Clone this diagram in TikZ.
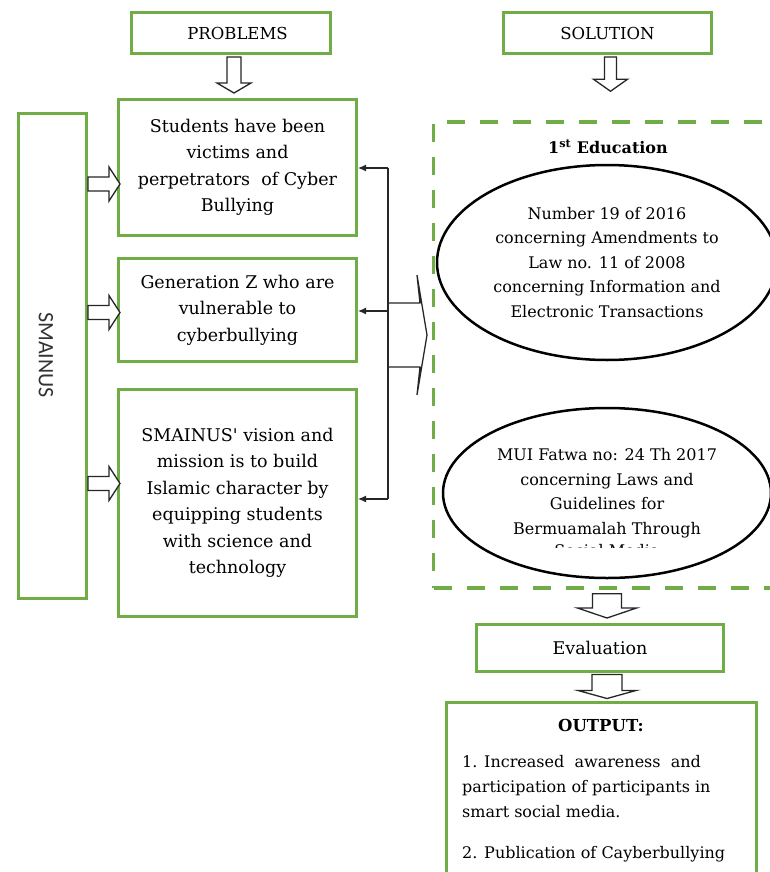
\documentclass[tikz,border=0pt]{standalone}
\usepackage{fontspec}
\setmainfont{DejaVu Serif}
\newfontfamily\smfont{Carlito}
\usetikzlibrary{shapes.geometric,arrows.meta,calc}
\definecolor{grn}{HTML}{70AD47}
\newcommand\dnblock[5]{\draw[blockarrow] let \p1=(#1), \p2=(#2) in (\x1-#3pt,\y1) -- (\x1-#3pt,\y2+#5pt) -- (\x1-#4pt,\y2+#5pt) -- (\x1,\y2) -- (\x1+#4pt,\y2+#5pt) -- (\x1+#3pt,\y2+#5pt) -- (\x1+#3pt,\y1) -- cycle;}
\newcommand\rtblock[5]{\draw[blockarrow] let \p1=(#1), \p2=(#2) in (\x1,\y1+#3pt) -- (\x2-#5pt,\y1+#3pt) -- (\x2-#5pt,\y1+#4pt) -- (\x2,\y1) -- (\x2-#5pt,\y1-#4pt) -- (\x2-#5pt,\y1-#3pt) -- (\x1,\y1-#3pt) -- cycle;}
\tikzset{
  gbox/.style={draw=grn, line width=3pt, fill=white, align=center, inner sep=0pt},
  boxtext/.style={font=\fontsize{17.5}{26.5}\selectfont},
  ell/.style={ellipse, draw=black, line width=2.5pt, fill=white, align=center, inner sep=0pt, font=\fontsize{16}{24.5}\selectfont},
  dashbox/.style={draw=grn, line width=3.5pt, dash pattern=on 18pt off 15pt, inner sep=0pt},
  blockarrow/.style={draw=black!85, line width=1.3pt, fill=white, line join=miter},
  conn/.style={draw=black!85, line width=1.3pt},
  tip/.style={-{Latex[length=8pt,width=7pt]}}
}
\begin{document}
\begin{tikzpicture}[x=1pt,y=-1pt]
\useasboundingbox (0,0) rectangle (770,872);
\fill[white] (0,0) rectangle (770,872);

% headers
\node[gbox, minimum width=199, minimum height=41, font=\fontsize{16.5}{20}\selectfont] (prob) at (231,33.5) {\hspace*{13pt}PROBLEMS};
\node[gbox, minimum width=208, minimum height=41, font=\fontsize{16.5}{20}\selectfont] (sol) at (607.5,33.5) {SOLUTION};

% left column
\node[gbox, minimum width=68, minimum height=485] (sm) at (52.5,356) {};
\node[rotate=-90, font=\smfont\fontsize{22}{22}\selectfont, text=black!80] (smt) at (46,355) {SMAINUS};

\node[gbox, boxtext, minimum width=238, minimum height=136] (s1) at (237.5,167.5)
  {Students have been\\victims and\\perpetrators\ \ of Cyber\\Bullying};
\node[gbox, boxtext, minimum width=238, minimum height=103] (s2) at (237.5,310)
  {Generation Z who are\\vulnerable to\\cyberbullying};
\node[gbox, boxtext, minimum width=238, minimum height=227] (s3) at (237.5,503)
  {SMAINUS\textquotesingle\ vision and\\mission is to build\\Islamic character by\\equipping students\\with science and\\technology};

% right column
\node[dashbox, minimum width=360, minimum height=466] (edu) at (613.5,355) {};
\node[font=\bfseries\fontsize{16}{20}\selectfont] (edt) at (608,147) {1\textsuperscript{st} Education};
\node[ell, minimum width=340, minimum height=195] (e1) at (607,262.5)
  {Number 19 of 2016\\concerning Amendments to\\Law no. 11 of 2008\\concerning Information and\\Electronic Transactions};
\node[ell, minimum width=328, minimum height=170] (e2) at (607,493)
  {MUI Fatwa no: 24 Th 2017\\concerning Laws and\\Guidelines for\\Bermuamalah Through};
\begin{scope}
  \clip (450,530) rectangle (760,547);
  \node[anchor=base, font=\fontsize{16}{24.5}\selectfont] (e2more) at (607,556) {Social Media};
\end{scope}

\node[gbox, minimum width=247, minimum height=47, font=\fontsize{17.5}{20}\selectfont] (ev) at (600,648) {Evaluation};
\node[gbox, minimum width=310, minimum height=200] (out) at (601.5,802) {};
\node[font=\bfseries\fontsize{16.5}{20}\selectfont] (outt) at (601,725) {OUTPUT:};
\node[anchor=north west, align=left, inner sep=0pt, font=\fontsize{16}{25}\selectfont] (o1) at (462,755)
  {1. Increased\ \ awareness\ \ and\\participation of participants in\\smart social media.};
\node[anchor=base west, inner sep=0pt, font=\fontsize{16}{25}\selectfont] (o2) at (462,858)
  {2. Publication of Cayberbullying};

% block arrows
\dnblock{$(prob.south)+(3,1.5)$}{$(s1.north)+(0,-5)$}{7}{17}{10}
\dnblock{$(sol.south)+(3,1.5)$}{$(edu.north)+(0,-29)$}{6}{17}{12}
\dnblock{$(e2.center |- edu.south)+(0,4)$}{$(ev.north)+(0,-5)$}{14.5}{29.5}{10}
\dnblock{$(e2.center |- ev.south)+(0,1.5)$}{$(out.north)+(0,-2)$}{15}{29}{8}

\rtblock{$(sm.east |- s1.center)+(0,16.5)$}{$(s1.west)+(3,0)$}{7}{17}{11}
\rtblock{$(sm.east |- s2.center)+(0,2.5)$}{$(s2.west)+(3,0)$}{7}{17}{11}
\rtblock{$(sm.east |- s3.center)+(0,-19.5)$}{$(s3.west)+(3,0)$}{7}{17}{11}

% bus connectors
\coordinate (bt) at (388,168);
\coordinate (bm) at (388,311);
\coordinate (bb) at (388,499);
\coordinate (bk) at (388,335);
\draw[conn] (bt) -- (bb);
\draw[conn,tip] (bt) -- (bt -| s1.east);
\draw[conn,tip] (bm) -- (bm -| s2.east);
\draw[conn,tip] (bb) -- (bb -| s3.east);
\draw[blockarrow, fill=none] ($(bk)+(0,-32)$) -- ($(bk)+(32,-32)$) -- ($(bk)+(29,-60)$) -- ($(bk)+(39,0)$) -- ($(bk)+(29,60)$) -- ($(bk)+(32,32)$) -- ($(bk)+(0,32)$);
\end{tikzpicture}
\end{document}
